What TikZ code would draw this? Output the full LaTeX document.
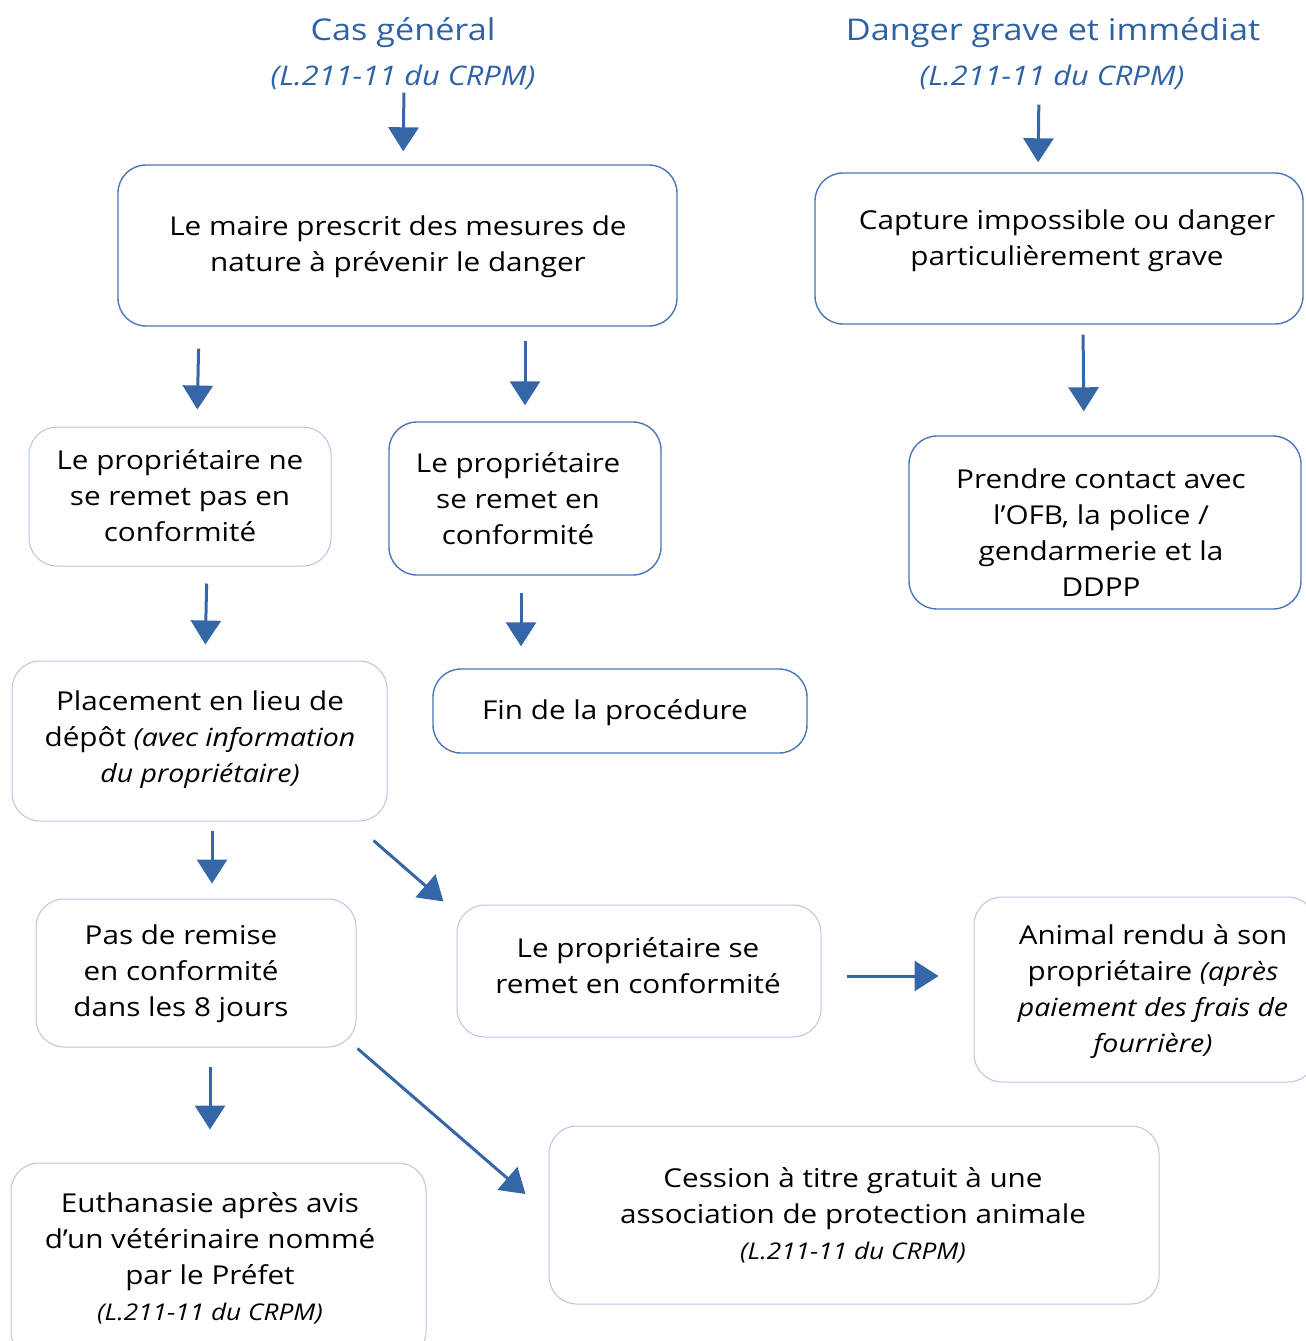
\documentclass[tikz,border=0pt]{standalone}
\usepackage{fontspec}
\setmainfont{Open Sans}[FakeStretch=1.14]
\usetikzlibrary{arrows.meta}
\definecolor{arrblue}{HTML}{3566A8}
\definecolor{darkb}{HTML}{4A76B8}
\definecolor{lightb}{HTML}{B4C6E4}
\definecolor{titleblue}{HTML}{2F62A5}
\begin{document}
\begin{tikzpicture}[x=1pt,y=-1pt,
  dbox/.style={draw=darkb, line width=1.4pt, rounded corners=28pt, inner sep=0pt},
  lbox/.style={draw=lightb, line width=1pt, rounded corners=28pt, inner sep=0pt},
  txt/.style={align=center, inner sep=0pt, yshift=-3pt, font=\fontsize{26}{36}\selectfont},
  ttl/.style={align=center, inner sep=0pt, yshift=-3pt, text=titleblue, font=\fontsize{30}{40}\selectfont},
  arr/.style={draw=arrblue, line width=3pt, -{Triangle[width=30pt,length=24pt]}}]
\newcommand\smit{\fontsize{25}{32}\selectfont\itshape}
\newcommand\crit{\fontsize{23}{32}\selectfont\itshape}
\useasboundingbox (0,0) rectangle (1306,1341);
\clip (0,0) rectangle (1306,1341);
% titles
\node[ttl] (t1) at (403,30) {Cas général};
\node[ttl, font=\fontsize{27}{40}\selectfont\itshape] (t1b) at (403,74) {(L.211-11 du CRPM)};
\node[ttl] (t2) at (1053,30) {Danger grave et immédiat};
\node[ttl, font=\fontsize{27}{40}\selectfont\itshape] (t2b) at (1052,74) {(L.211-11 du CRPM)};
% boxes
\node[dbox, minimum width=559pt, minimum height=161pt] (b1) at (397.5,245.5) {};
\node[txt] (x1) at (398,244) {Le maire prescrit des mesures de\\nature à prévenir le danger};
\node[dbox, minimum width=488pt, minimum height=151pt] (b2) at (1059,248.5) {};
\node[txt] (x2) at (1067,238) {Capture impossible ou danger\\particulièrement grave};
\node[lbox, minimum width=302pt, minimum height=139pt] (b3) at (180,496.5) {};
\node[txt] (x3) at (180,493) {Le propriétaire ne\\se remet pas en\\conformité};
\node[dbox, minimum width=272pt, minimum height=153pt] (b4) at (525,498.5) {};
\node[txt] (x4) at (518,496) {Le propriétaire\\se remet en\\conformité};
\node[dbox, minimum width=392pt, minimum height=173pt] (b5) at (1105,522.5) {};
\node[txt] (x5) at (1101,530) {Prendre contact avec\\l’OFB, la police /\\gendarmerie et la\\DDPP};
\node[lbox, minimum width=375pt, minimum height=160pt] (b6) at (199.5,741) {};
\node[txt] (x6) at (200,737) {Placement en lieu de\\dépôt {\smit(avec information}\\{\smit du propriétaire)}};
\node[dbox, minimum width=374pt, minimum height=84pt] (b7) at (620,711) {};
\node[txt] (x7) at (615,710) {Fin de la procédure};
\node[lbox, minimum width=320pt, minimum height=148pt] (b8) at (196,973) {};
\node[txt] (x8) at (181,971) {Pas de remise\\en conformité\\dans les 8 jours};
\node[lbox, minimum width=364pt, minimum height=132pt] (b9) at (639,971) {};
\node[txt] (x9) at (638,963) {Le propriétaire se\\remet en conformité};
\node[lbox, minimum width=342pt, minimum height=185pt] (b10) at (1145,989.5) {};
\node[txt] (x10) at (1153,989) {Animal rendu à son\\propriétaire {\smit(après}\\{\smit paiement des frais de}\\{\smit fourrière)}};
\node[lbox, minimum width=415pt, minimum height=197pt] (b11) at (218.5,1261.5) {};
\node[txt] (x11) at (210,1255) {Euthanasie après avis\\d’un vétérinaire nommé\\par le Préfet\\{\crit (L.211-11 du CRPM)}};
\node[lbox, minimum width=610pt, minimum height=178pt] (b12) at (854,1215) {};
\node[txt] (x12) at (853,1212) {Cession à titre gratuit à une\\association de protection animale\\{\crit (L.211-11 du CRPM)}};
% arrows
\draw[arr, shorten <=3pt, shorten >=13pt] ([xshift=1pt]t1b.south) -- ([xshift=5.5pt]b1.north);
\draw[arr, shorten <=15pt, shorten >=10pt] ([xshift=-13pt]t2b.south) -- ([xshift=-21pt]b2.north);
\draw[arr, shorten <=22pt, shorten >=17pt] ([xshift=-198.5pt]b1.south) -- ([xshift=17pt]b3.north);
\draw[arr, shorten <=14pt, shorten >=16pt] ([xshift=127.5pt]b1.south) -- (b4.north);
\draw[arr, shorten <=10pt, shorten >=24pt] ([xshift=24pt]b2.south) -- ([xshift=-21pt]b5.north);
\draw[arr, shorten <=17pt, shorten >=16pt] ([xshift=27pt]b3.south) -- ([xshift=5.5pt]b6.north);
\draw[arr, shorten <=17pt, shorten >=22pt] ([xshift=-4pt]b4.south) -- ([xshift=-99pt]b7.north);
\draw[arr, shorten <=9pt, shorten >=15pt] ([xshift=12.5pt]b6.south) -- ([xshift=16pt]b8.north);
\draw[arr] ([xshift=-14pt,yshift=-19pt]b6.south east) -- ([xshift=-13pt,yshift=3pt]b9.north west);
\draw[arr] ([xshift=25pt,yshift=-5pt]b9.east) -- ([xshift=-35pt,yshift=13.5pt]b10.west);
\draw[arr, shorten <=19pt, shorten >=33pt] ([xshift=14pt]b8.south) -- ([xshift=-8.5pt]b11.north);
\draw[arr] ([xshift=1pt,yshift=-1pt]b8.south east) -- ([xshift=-23pt,yshift=21pt]b12.west);
\end{tikzpicture}
\end{document}
